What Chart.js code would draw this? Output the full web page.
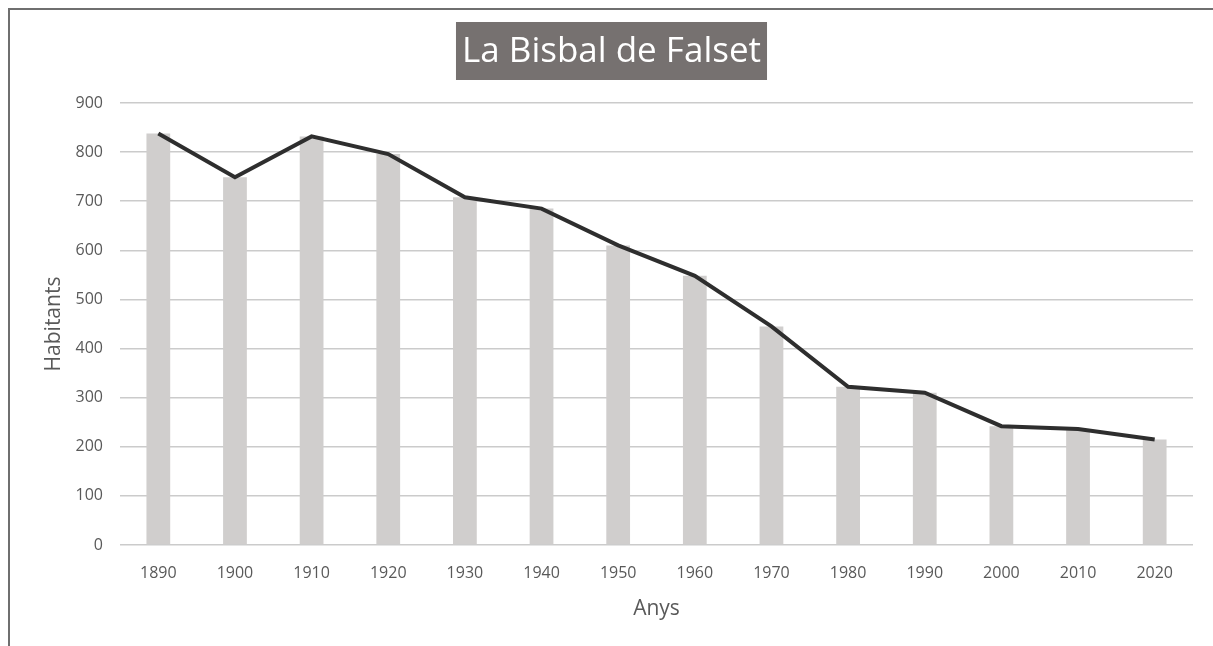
<!DOCTYPE html>
<html>
<head>
<meta charset="utf-8">
<script src="https://cdn.jsdelivr.net/npm/chart.js@4"></script>
<style>
  html, body { margin: 0; padding: 0; background: #ffffff; }
  #wrap { position: relative; width: 1213px; height: 646px; overflow: hidden; }
  #frame { position: absolute; left: 8px; top: 8px; width: 1300px; height: 700px;
           border-left: 2px solid #6f6f6f; border-top: 2px solid #6f6f6f; pointer-events: none; }
  canvas { position: absolute; left: 0; top: 0; }
</style>
</head>
<body>
<div id="wrap">
  <canvas id="c" width="1213" height="646"></canvas>
  <div id="frame"></div>
</div>
<script>
const chartTitle = "La Bisbal de Falset";
const xAxisTitle = "Anys";
const yAxisTitle = "Habitants";
const years = ["1890","1900","1910","1920","1930","1940","1950","1960","1970","1980","1990","2000","2010","2020"];
const barValues = [838, 749, 832, 796, 708, 685, 610, 548, 445, 322, 310, 242, 236, 215];
const lineValues = [838, 749, 832, 796, 708, 685, 610, 548, 445, 322, 310, 242, 236, 215];
const yTicks = [0, 100, 200, 300, 400, 500, 600, 700, 800, 900];

const FONT = "'Open Sans', 'Noto Sans', sans-serif";

const titleBoxPlugin = {
  id: 'titleBox',
  afterDraw(chart) {
    const ctx = chart.ctx;
    ctx.save();
    ctx.font = "35px " + FONT;
    const w = ctx.measureText(chartTitle).width;
    const cx = 611.5, top = 22, h = 58;
    const bw = w + 12;
    ctx.fillStyle = "#767170";
    ctx.fillRect(cx - bw / 2, top, bw, h);
    ctx.fillStyle = "#ffffff";
    ctx.textAlign = "center";
    ctx.textBaseline = "middle";
    ctx.fillText(chartTitle, cx, top + h / 2 + 1);
    ctx.restore();
  }
};

new Chart(document.getElementById('c'), {
  type: 'bar',
  data: {
    labels: years,
    datasets: [
      {
        type: 'line',
        data: lineValues,
        borderColor: '#2e2e2e',
        borderWidth: 4,
        pointRadius: 0,
        tension: 0,
        fill: false,
        order: 0
      },
      {
        type: 'bar',
        data: barValues,
        backgroundColor: '#d0cecd',
        borderWidth: 0,
        categoryPercentage: 1,
        barPercentage: 0.31,
        order: 1
      }
    ]
  },
  options: {
    responsive: false,
    animation: false,
    devicePixelRatio: 1,
    layout: { padding: { left: 10, right: 20, top: 103, bottom: 10 } },
    plugins: {
      legend: { display: false },
      tooltip: { enabled: false },
      title: { display: false }
    },
    scales: {
      x: {
        offset: true,
        grid: { display: false, drawTicks: false },
        border: { display: false },
        ticks: { color: '#595959', font: { family: FONT, size: 16 }, padding: 19, maxRotation: 0 },
        title: { display: true, text: xAxisTitle, color: '#595959', font: { family: FONT, size: 21 }, padding: { top: 0, bottom: 14 } },
        afterFit(s) { s.height = 91; }
      },
      y: {
        min: 0,
        max: 900,
        afterBuildTicks(s) { s.ticks = yTicks.map(v => ({ value: v })); },
        grid: { color: '#cbcbcb', lineWidth: 1.6, drawTicks: false },
        border: { display: false },
        ticks: { color: '#595959', font: { family: FONT, size: 16 }, padding: 17 },
        title: { display: true, text: yAxisTitle, color: '#595959', font: { family: FONT, size: 21 }, padding: { top: 31, bottom: 0 } },
        afterFit(s) { s.width = 110; }
      }
    }
  },
  plugins: [titleBoxPlugin]
});
</script>
</body>
</html>
